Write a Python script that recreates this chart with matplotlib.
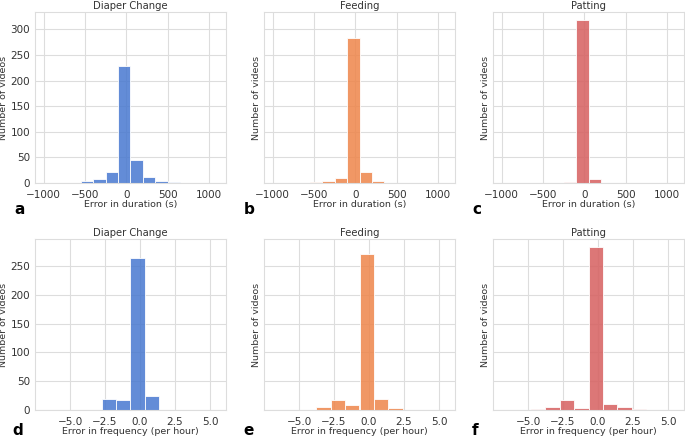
import matplotlib
matplotlib.use("Agg")
import matplotlib.pyplot as plt
import numpy as np
import seaborn as sns

sns.set_theme(style="whitegrid")
plt.rcParams['font.family'] = ['DejaVu Sans']

# duration errors (s), 14 bins of 150 s from -1000 to 1100
dur_edges = np.linspace(-1000, 1100, 15)
dur_diaper = [0, 0, 0, 4, 7, 22, 228, 44, 12, 3, 1, 0, 0, 0]
dur_feeding = [0, 0, 0, 2, 4, 10, 283, 22, 4, 0, 0, 0, 0, 0]
dur_patting = [0, 0, 0, 0, 0, 2, 318, 8, 0, 0, 0, 0, 0, 0]

# frequency errors (per hour), 12 bins from -6.88 to 5.52
freq_edges = np.linspace(-6.88, 5.52, 13)
freq_diaper = [0, 0, 0, 0, 19, 17, 264, 24, 0, 0, 0, 0]
freq_feeding = [0, 0, 0, 5, 17, 9, 271, 19, 3, 0, 0, 0]
freq_patting = [0, 0, 2, 5, 17, 3, 283, 11, 5, 1, 0, 0]

titles = ["Diaper Change", "Feeding", "Patting"]
colors = sns.color_palette("muted")
bar_colors = [colors[0], colors[1], colors[3]]
letters = ["a", "b", "c", "d", "e", "f"]

W, H = 685, 440
fig = plt.figure(figsize=(W / 100, H / 100), dpi=100)

lefts = [35, 264, 493]
ax_w = 191
rows = [(12, 183), (239, 410)]

rows_data = [
    (dur_edges, [dur_diaper, dur_feeding, dur_patting], "Error in duration (s)",
     (-1105, 1205), [-1000, -500, 0, 500, 1000], np.arange(0, 301, 50), 334),
    (freq_edges, [freq_diaper, freq_feeding, freq_patting], "Error in frequency (per hour)",
     (-7.5, 6.14), [-5.0, -2.5, 0.0, 2.5, 5.0], np.arange(0, 251, 50), 297),
]

txt = "#333333"
for r, (top, bot) in enumerate(rows):
    edges, series, xlabel, xlim, xticks, yticks, ymax = rows_data[r]
    centers = (edges[:-1] + edges[1:]) / 2
    for c in range(3):
        ax = fig.add_axes([lefts[c] / W, 1 - bot / H, ax_w / W, (bot - top) / H])
        ax.hist(centers, bins=edges, weights=series[c], color=bar_colors[c],
                alpha=0.85, edgecolor="white", linewidth=0.7)
        ax.set_xlim(*xlim)
        ax.set_ylim(0, ymax)
        ax.set_xticks(xticks)
        ax.set_yticks(yticks)
        if r == 1:
            ax.set_xticklabels([f"{t:.1f}".replace("-", "\u2212") for t in xticks])
        ax.tick_params(labelsize=7.5, length=0, pad=3.5, colors=txt)
        ax.tick_params(axis="x", pad=4.8)
        if c > 0:
            ax.tick_params(labelleft=False)
        ax.set_title(titles[c], fontsize=7.2, pad=2, color=txt)
        ax.set_xlabel(xlabel, fontsize=6.8, labelpad=0, color=txt)
        ax.set_ylabel("Number of videos", fontsize=6.8, color=txt)
        ax.yaxis.set_label_coords(-0.139 if c == 0 else -0.016, 0.5)
        ax.grid(True, color="#dddddd", linewidth=0.8)
        for s in ax.spines.values():
            s.set_color("#dddddd")
            s.set_linewidth(0.8)
        ax.set_axisbelow(True)

letter_pos = [(20, 209), (249, 209), (477, 209), (18, 430), (249, 430), (475, 430)]
for lt, (x, y) in zip(letters, letter_pos):
    fig.text(x / W, 1 - y / H, lt, fontsize=11, fontweight="bold",
             ha="center", va="center", color="black")

fig.savefig("out.png", dpi=100)
